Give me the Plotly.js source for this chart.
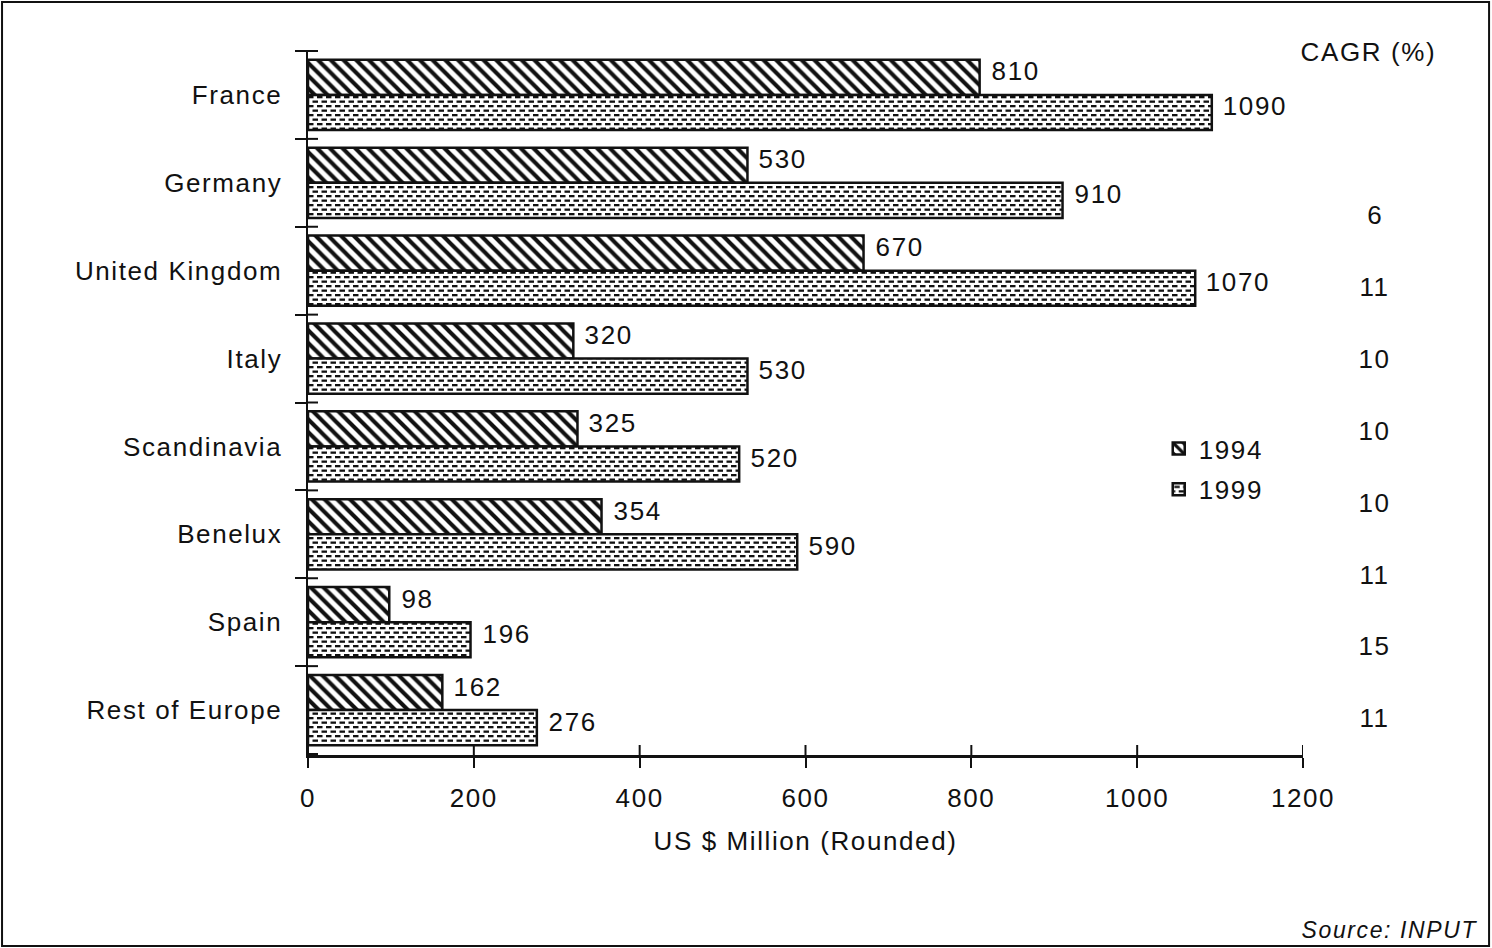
<!DOCTYPE html>
<html>
<head>
<meta charset="utf-8">
<script src="https://cdn.plot.ly/plotly-3.0.1.min.js"></script>
<style>
  html, body { margin: 0; padding: 0; background: #fff; }
  #chart { width: 1492px; height: 948px; }
  #chart text { letter-spacing: 1.6px; }
</style>
</head>
<body>
<div id="chart"></div>
<script>
// European market by country, 1994 vs 1999 (US $ million, rounded)
const countries = ["France", "Germany", "United Kingdom", "Italy", "Scandinavia", "Benelux", "Spain", "Rest of Europe"];
const values1994 = [810, 530, 670, 320, 325, 354, 98, 162];
const values1999 = [1090, 910, 1070, 530, 520, 590, 196, 276];
const cagrValues = [6, 11, 10, 10, 10, 11, 15, 11];
const xTicks = [0, 200, 400, 600, 800, 1000, 1200];

const FONT = "Liberation Sans, Arial, Helvetica, sans-serif";
const INK = "#111";
const textFont = { family: FONT, size: 26, color: INK };

const bar1994 = {
  type: "bar",
  orientation: "h",
  name: "1994",
  legendgroup: "a",
  y: countries,
  x: values1994,
  marker: {
    color: "#fff",
    line: { color: INK, width: 2.5 },
    pattern: { shape: "\\", fgcolor: INK, bgcolor: "#fff", size: 9, solidity: 0.45 }
  },
  hoverinfo: "x+y+name"
};

const bar1999 = {
  type: "bar",
  orientation: "h",
  name: "1999",
  legendgroup: "b",
  y: countries,
  x: values1999,
  marker: {
    color: "#fff",
    line: { color: INK, width: 2.5 },
    // dotted base pattern, reshaped into staggered dashes after drawing
    pattern: { shape: ".", fgcolor: INK, bgcolor: "#fff", size: 6, solidity: 0.3 }
  },
  hoverinfo: "x+y+name"
};

// value labels just past each bar end (upper bar = 1994, lower bar = 1999)
function valueLabels(values, yshift) {
  return values.map((v, i) => ({
    xref: "x", yref: "y", x: v, y: countries[i],
    xanchor: "left", yanchor: "middle",
    xshift: 12, yshift: yshift,
    text: String(v), showarrow: false, font: textFont
  }));
}

// CAGR column on the right, evenly stacked
const cagrTop = 0.766, cagrStep = 0.102;
const annotations = [
  {
    xref: "paper", yref: "paper", x: 1.066, y: 0.997,
    xanchor: "center", yanchor: "middle",
    text: "CAGR (%)", showarrow: false, font: textFont
  },
  {
    xref: "paper", yref: "paper", x: 1.169, y: -0.248,
    xanchor: "right", yanchor: "middle",
    text: "<i>Source: INPUT</i>", showarrow: false,
    font: { family: FONT, size: 23, color: INK }
  }
]
  .concat(cagrValues.map((v, i) => ({
    xref: "paper", yref: "paper", x: 1.072, y: cagrTop - i * cagrStep,
    xanchor: "center", yanchor: "middle",
    text: String(v), showarrow: false, font: textFont
  })))
  .concat(valueLabels(values1994, 23.5))
  .concat(valueLabels(values1999, -11.5));

// inner halves of the axis ticks so they cross the axis lines
const tickShapes = xTicks.map(t => ({
  type: "line", xref: "x", yref: "paper",
  x0: t, x1: t, ysizemode: "pixel", yanchor: 0, y0: 0, y1: 10,
  line: { color: INK, width: 2 }
})).concat(countries.map((c, i) => i - 0.5).concat([countries.length - 0.5]).map(b => ({
  type: "line", xref: "x", yref: "y",
  y0: b, y1: b, xsizemode: "pixel", xanchor: 0, x0: 0, x1: 10,
  line: { color: INK, width: 2 }
})));

const layout = {
  width: 1492,
  height: 948,
  margin: { l: 308, r: 189, t: 50, b: 193 },
  paper_bgcolor: "#fff",
  plot_bgcolor: "#fff",
  barmode: "group",
  bargap: 0.2,
  bargroupgap: 0,
  showlegend: true,
  legend: {
    x: 0.855, y: 0.468, xanchor: "left", yanchor: "top",
    font: textFont,
    bgcolor: "rgba(0,0,0,0)",
    traceorder: "grouped",
    tracegroupgap: 4,
    itemwidth: 30
  },
  font: textFont,
  xaxis: {
    range: [0, 1200],
    tickvals: xTicks,
    ticktext: xTicks.map(String),
    ticks: "outside",
    ticklen: 10,
    tickwidth: 2,
    tickcolor: INK,
    ticklabelstandoff: 8,
    showline: true,
    linecolor: INK,
    linewidth: 2.5,
    showgrid: false,
    zeroline: false,
    tickfont: textFont,
    title: { text: "US $ Million (Rounded)", standoff: 20, font: textFont }
  },
  yaxis: {
    type: "category",
    autorange: "reversed",
    ticks: "outside",
    tickson: "boundaries",
    ticklen: 11,
    tickwidth: 2,
    tickcolor: INK,
    ticklabelstandoff: 18,
    showline: true,
    linecolor: INK,
    linewidth: 2.5,
    showgrid: false,
    zeroline: false,
    tickfont: textFont
  },
  annotations: annotations,
  shapes: [
    {
      type: "rect", xref: "paper", yref: "paper",
      x0: -0.3075, x1: 1.187, y0: -0.271, y1: 1.068,
      line: { color: INK, width: 2 }, fillcolor: "rgba(0,0,0,0)"
    }
  ].concat(tickShapes)
};

const SVGNS = "http://www.w3.org/2000/svg";
function dashRect(x, y, w, h) {
  const r = document.createElementNS(SVGNS, "rect");
  r.setAttribute("x", x); r.setAttribute("y", y);
  r.setAttribute("width", w); r.setAttribute("height", h);
  r.setAttribute("fill", INK);
  return r;
}

Plotly.newPlot("chart", [bar1994, bar1999], layout, { displayModeBar: false, staticPlot: true })
  .then(gd => {
    // turn the dot fill into rows of staggered short dashes
    gd.querySelectorAll("pattern").forEach(p => {
      if (!p.querySelector("circle")) return;
      while (p.firstChild) p.removeChild(p.firstChild);
      p.setAttribute("width", 9);
      p.setAttribute("height", 9);
      p.removeAttribute("patternTransform");
      const bg = document.createElementNS(SVGNS, "rect");
      bg.setAttribute("width", 9); bg.setAttribute("height", 9); bg.setAttribute("fill", "#fff");
      p.appendChild(bg);
      p.appendChild(dashRect(0, 1, 5.5, 2.3));
      p.appendChild(dashRect(4.5, 5.5, 4.5, 2.3));
      p.appendChild(dashRect(0, 5.5, 1, 2.3));
    });
  });
</script>
</body>
</html>
